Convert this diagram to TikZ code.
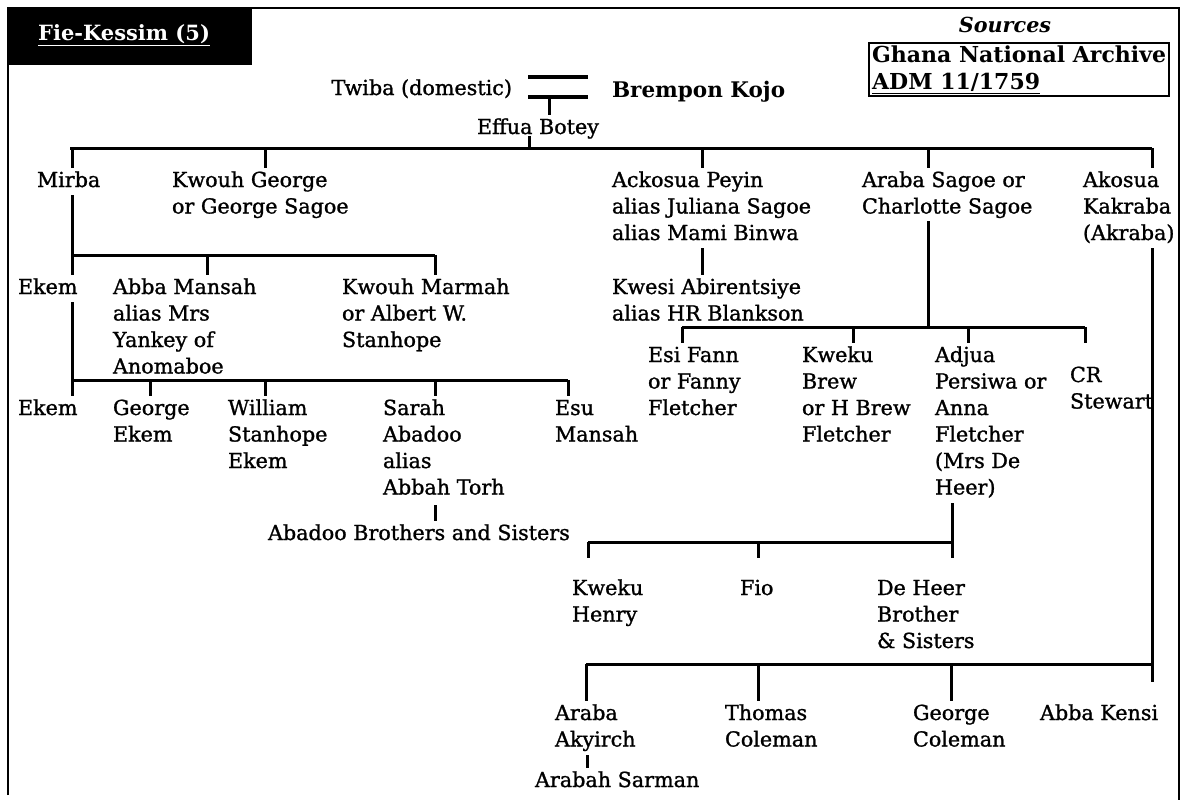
\documentclass[tikz,border=0pt]{standalone}
\usepackage{fontspec}
\setmainfont{DejaVu Serif}
\newfontfamily\persfont{DejaVu Serif}[FakeBold=1.2]
\usetikzlibrary{backgrounds}
\newcommand{\pline}[1]{\hbox{\strut #1}}
\tikzset{
  person/.style={anchor=base west, inner sep=0pt, outer sep=0pt, font={\persfont\fontsize{20.7}{26.5}\selectfont}},
  cover/.style={fill=white},
  frame/.style={line width=2.6pt},
}
\begin{document}
\begin{tikzpicture}[x=1pt,y=-1pt]
\useasboundingbox (0,0) rectangle (1185,800);
% frame and title
\fill (8,8) rectangle (252,65);
\draw[frame] (8,795) -- (8,8) -- (1179,8) -- (1179,800);
\node[anchor=base west, inner sep=0pt, text=white, font={\fontsize{21}{26.5}\selectfont\bfseries}] (title) at (38,41) {\underline{Fie-Kessim (5)}};
% sources
\node[inner sep=0pt, font={\fontsize{20.7}{26.5}\selectfont\bfseries\itshape}] (srclabel) at (1005,25) {Sources};
\node[draw, line width=2.2pt, anchor=north west, inner sep=3pt, align=left, font={\fontsize{22}{26.5}\selectfont\bfseries}] (srcbox) at (868,42) {Ghana National Archive\\\underline{ADM 11/1759}};
% top couple
\node[person, anchor=base east] (twiba) at (512,95) {\vtop{\pline{Twiba (domestic)}}};
\node[person, font={\fontsize{21.5}{26.5}\selectfont\bfseries}] (brempon) at (612,97) {\vtop{\pline{Brempon Kojo}}};
\node[person] (effua) at (477,134) {\vtop{\pline{Effua Botey}}};
% generation 1
\node[person, cover] (mirba) at (37,187) {\vtop{\pline{Mirba}}};
\node[person] (kgeorge) at (172,187) {\vtop{\pline{Kwouh George}\pline{or George Sagoe}}};
\node[person, cover] (ackosua) at (612,187) {\vtop{\pline{Ackosua Peyin}\pline{alias Juliana Sagoe}\pline{alias Mami Binwa}}};
\node[person, cover] (araba) at (862,187) {\vtop{\pline{Araba Sagoe or}\pline{Charlotte Sagoe}}};
\node[person, cover] (akosua) at (1083,187) {\vtop{\pline{Akosua}\pline{Kakraba}\pline{(Akraba)}}};
% generation 2
\node[person, cover] (ekem1) at (18,294) {\vtop{\pline{Ekem}}};
\node[person] (abba) at (113,294) {\vtop{\pline{Abba Mansah}\pline{alias Mrs}\pline{Yankey of}\pline{Anomaboe}}};
\node[person] (kmarmah) at (342,294) {\vtop{\pline{Kwouh Marmah}\pline{or Albert W.}\pline{Stanhope}}};
\node[person] (kwesi) at (612,294) {\vtop{\pline{Kwesi Abirentsiye}\pline{alias HR Blankson}}};
% generation 3 (left)
\node[person] (ekem2) at (18,415) {\vtop{\pline{Ekem}}};
\node[person] (gekem) at (113,415) {\vtop{\pline{George}\pline{Ekem}}};
\node[person] (william) at (228,415) {\vtop{\pline{William}\pline{Stanhope}\pline{Ekem}}};
\node[person] (sarah) at (383,415) {\vtop{\pline{Sarah}\pline{Abadoo}\pline{alias}\pline{Abbah Torh}}};
\node[person] (esu) at (555,415) {\vtop{\pline{Esu}\pline{Mansah}}};
\node[person] (abadoo) at (268,540) {\vtop{\pline{Abadoo Brothers and Sisters}}};
% generation 2 (right)
\node[person] (esi) at (648,362) {\vtop{\pline{Esi Fann}\pline{or Fanny}\pline{Fletcher}}};
\node[person] (kweku) at (802,362) {\vtop{\pline{Kweku}\pline{Brew}\pline{or H Brew}\pline{Fletcher}}};
\node[person] (adjua) at (935,362) {\vtop{\pline{Adjua}\pline{Persiwa or}\pline{Anna}\pline{Fletcher}\pline{(Mrs De}\pline{Heer)}}};
\node[person] (cr) at (1070,382) {\vtop{\pline{CR}\pline{Stewart}}};
% generation 3 (right)
\node[person] (kwekuh) at (572,595) {\vtop{\pline{Kweku}\pline{Henry}}};
\node[person] (fio) at (740,595) {\vtop{\pline{Fio}}};
\node[person] (deheer) at (877,595) {\vtop{\pline{De Heer}\pline{Brother}\pline{\& Sisters}}};
\node[person] (arabaa) at (555,720) {\vtop{\pline{Araba}\pline{Akyirch}}};
\node[person] (thomas) at (725,720) {\vtop{\pline{Thomas}\pline{Coleman}}};
\node[person] (georgec) at (913,720) {\vtop{\pline{George}\pline{Coleman}}};
\node[person] (abbak) at (1040,720) {\vtop{\pline{Abba Kensi}}};
\node[person] (arabahs) at (535,787) {\vtop{\pline{Arabah Sarman}}};
% connectors
\begin{scope}[on background layer]
\begin{scope}[line width=3pt]
  \coordinate (m1) at (528,77); \coordinate (m2) at (588,77);
  \coordinate (m3) at (528,97); \coordinate (m4) at (588,97);
  \draw[line width=3.4pt] (m1) -- (m2);
  \draw[line width=3.4pt] (m3) -- (m4);
  \draw (549,97) -- (549,97 |- effua.north);
  \draw (529,136) -- (529,148);
  % main bus
  \draw (70,148) -- (1152,148);
  \draw (72,148) -- (72,148 |- ekem2.north);
  \draw (265,148) -- (265,148 |- kgeorge.north);
  \draw (702,148) -- (702,148 |- kwesi.north);
  \draw (928,148) -- (928,327);
  \draw (1152,148) -- (1152,682);
  % Mirba children
  \draw (72,255) -- (435,255);
  \draw (207,255) -- (207,255 |- abba.north);
  \draw (435,255) -- (435,255 |- kmarmah.north);
  \draw (72,380) -- (568,380);
  \draw (150,380) -- (150,380 |- gekem.north);
  \draw (265,380) -- (265,380 |- william.north);
  \draw (435,380) -- (435,380 |- sarah.north);
  \draw (568,380) -- (568,380 |- esu.north);
  \draw (435,505) -- (435,505 |- abadoo.north);
  % Araba children
  \draw (682,327) -- (1085,327);
  \draw (682,327) -- (682,327 |- esi.north);
  \draw (853,327) -- (853,327 |- kweku.north);
  \draw (968,327) -- (968,327 |- adjua.north);
  \draw (1085,327) -- (1085,343);
  % Adjua children
  \draw (952,503) -- (952,558);
  \draw (588,542) -- (952,542);
  \draw (588,542) -- (588,558);
  \draw (758,542) -- (758,558);
  % Akosua children
  \draw (586,664) -- (1152,664);
  \draw (586,664) -- (586,664 |- arabaa.north);
  \draw (758,664) -- (758,664 |- thomas.north);
  \draw (951,664) -- (951,664 |- georgec.north);
  \draw (587,755) -- (587,755 |- arabahs.north);
\end{scope}
\end{scope}
\end{tikzpicture}
\end{document}
